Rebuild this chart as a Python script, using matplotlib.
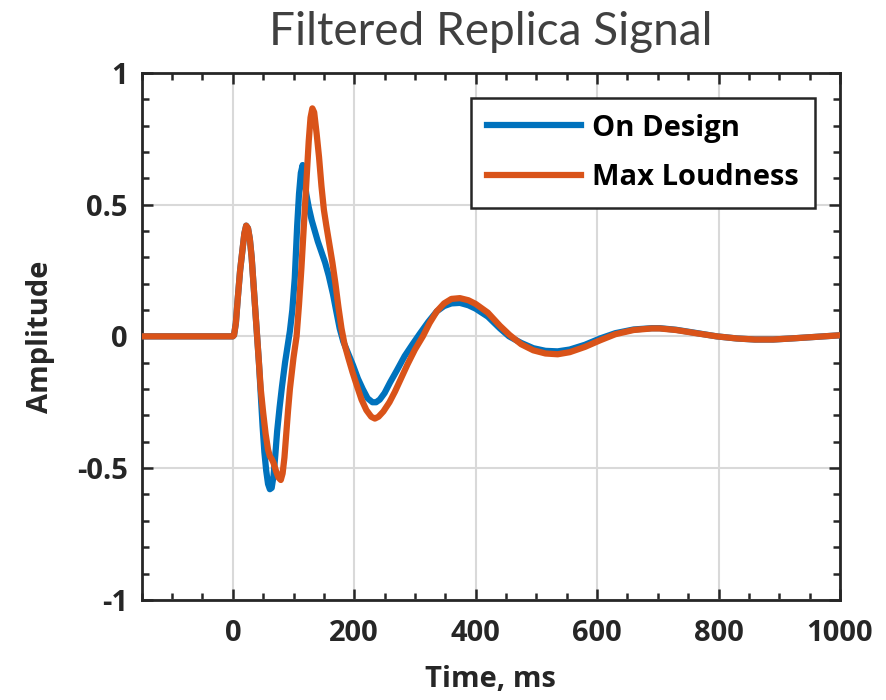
import matplotlib.pyplot as plt
from matplotlib.ticker import MultipleLocator

# values
t_design = [-150, 0, 2, 5, 8, 12, 16, 19, 22, 25, 28, 31, 34, 37, 40, 43, 46, 49, 52, 55, 58, 61,
            64, 67, 70, 73, 77, 81, 86, 90, 94, 98, 102, 106, 109, 112, 115, 118, 121, 125, 130,
            135, 140, 146, 152, 158, 165, 170, 176, 182, 190, 198, 206, 214, 222, 230, 236, 242,
            250, 259, 270, 283, 296, 308, 322, 336, 348, 360, 374, 388, 400, 420, 440, 455, 475,
            495, 515, 535, 555, 580, 605, 630, 660, 690, 703, 730, 760, 797, 830, 860, 890, 920,
            960, 1000]
a_design = [0, 0, 0.005, 0.05, 0.14, 0.25, 0.33, 0.39, 0.42, 0.41, 0.37, 0.3, 0.2, 0.1, 0.0, -0.1,
            -0.22, -0.34, -0.44, -0.51, -0.56, -0.58, -0.575, -0.53, -0.45, -0.36, -0.27, -0.19,
            -0.1, -0.04, 0.02, 0.1, 0.22, 0.42, 0.54, 0.62, 0.65, 0.6, 0.54, 0.49, 0.44, 0.4, 0.36,
            0.32, 0.28, 0.23, 0.16, 0.1, 0.03, -0.02, -0.065, -0.11, -0.16, -0.2, -0.235, -0.25,
            -0.25, -0.24, -0.215, -0.175, -0.13, -0.075, -0.03, 0.01, 0.055, 0.095, 0.115, 0.125,
            0.127, 0.118, 0.105, 0.075, 0.03, 0.0, -0.025, -0.045, -0.055, -0.057, -0.05, -0.032,
            -0.008, 0.012, 0.026, 0.031, 0.031, 0.025, 0.014, 0.0, -0.008, -0.012, -0.012, -0.008,
            -0.002, 0.004]

t_loud = [-150, 0, 2, 5, 8, 12, 16, 19, 22, 25, 28, 31, 34, 37, 40, 43, 46, 50, 54, 58, 61, 64,
          67, 71, 75, 79, 82, 85, 88, 91, 94, 97, 100, 105, 109, 113, 117, 121, 125, 128, 131,
          134, 138, 142, 146, 150, 154, 159, 164, 169, 174, 179, 184, 190, 197, 204, 212, 220,
          228, 234, 240, 248, 258, 267, 276, 288, 300, 313, 324, 336, 348, 360, 374, 388, 400,
          420, 440, 456, 475, 495, 515, 535, 555, 580, 605, 630, 660, 690, 703, 730, 760, 797,
          830, 860, 890, 920, 960, 1000]
a_loud = [0, 0, 0.005, 0.05, 0.14, 0.25, 0.33, 0.39, 0.42, 0.41, 0.37, 0.3, 0.2, 0.1, 0.0, -0.1,
          -0.2, -0.29, -0.37, -0.43, -0.455, -0.465, -0.48, -0.51, -0.535, -0.545, -0.52, -0.46,
          -0.37, -0.28, -0.2, -0.14, -0.08, 0.0, 0.12, 0.26, 0.42, 0.58, 0.74, 0.83, 0.865, 0.85,
          0.77, 0.68, 0.57, 0.48, 0.42, 0.35, 0.28, 0.2, 0.11, 0.03, -0.03, -0.08, -0.135, -0.185,
          -0.24, -0.28, -0.305, -0.312, -0.305, -0.285, -0.25, -0.21, -0.165, -0.105, -0.05, 0.0,
          0.05, 0.095, 0.125, 0.142, 0.145, 0.137, 0.123, 0.09, 0.04, 0.005, -0.03, -0.053,
          -0.065, -0.068, -0.06, -0.04, -0.015, 0.008, 0.024, 0.03, 0.03, 0.024, 0.013, 0.0,
          -0.008, -0.012, -0.012, -0.008, -0.002, 0.004]

x_ticks = [0, 200, 400, 600, 800, 1000]
y_ticks = [-1, -0.5, 0, 0.5, 1]
y_labels = ['-1', '-0.5', '0', '0.5', '1']

plt.rcParams['font.family'] = ['Open Sans', 'DejaVu Sans']

fig = plt.figure(figsize=(8.86, 7.0), dpi=100)
ax = fig.add_axes([0.160, 0.143, 0.788, 0.753])

ax.plot(t_design, a_design, color='#0072BD', lw=4.5, label='On Design', zorder=3,
        solid_joinstyle='round')
ax.plot(t_loud, a_loud, color='#D95319', lw=4.5, label='Max Loudness', zorder=4,
        solid_joinstyle='round')

ax.set_xlim(-150, 1000)
ax.set_ylim(-1, 1)
ax.set_xticks(x_ticks)
ax.set_yticks(y_ticks)
ax.set_yticklabels(y_labels)
ax.xaxis.set_minor_locator(MultipleLocator(50))
ax.yaxis.set_minor_locator(MultipleLocator(0.1))
ax.tick_params(which='both', direction='in', top=True, right=True, width=1.8, color='#262626')
ax.tick_params(which='major', length=8, labelsize=21, pad=10)
ax.tick_params(axis='x', which='major', pad=14)
ax.tick_params(which='minor', length=5)
for lab in ax.get_xticklabels() + ax.get_yticklabels():
    lab.set_fontweight('bold')
    lab.set_color('#262626')
for sp in ax.spines.values():
    sp.set_linewidth(2)
    sp.set_color('#262626')
ax.grid(True, which='major', color='#d9d9d9', lw=1.5, zorder=0)

ax.set_xlabel('Time, ms', fontsize=21, fontweight='bold', color='#262626', labelpad=12)
ax.set_ylabel('Amplitude', fontsize=21, fontweight='bold', color='#262626', labelpad=16)
ax.set_title('Filtered Replica Signal', fontsize=33, color='#404040', family='Lato', pad=20)

leg = ax.legend(loc='upper right', prop={'weight': 'bold', 'size': 21}, fancybox=False,
                handlelength=3.2, borderaxespad=0.85, framealpha=1, borderpad=0.55,
                labelspacing=0.7, handletextpad=0.4)
leg.get_frame().set_edgecolor('#262626')
leg.get_frame().set_linewidth(1.8)

fig.savefig('out.png', dpi=100)
